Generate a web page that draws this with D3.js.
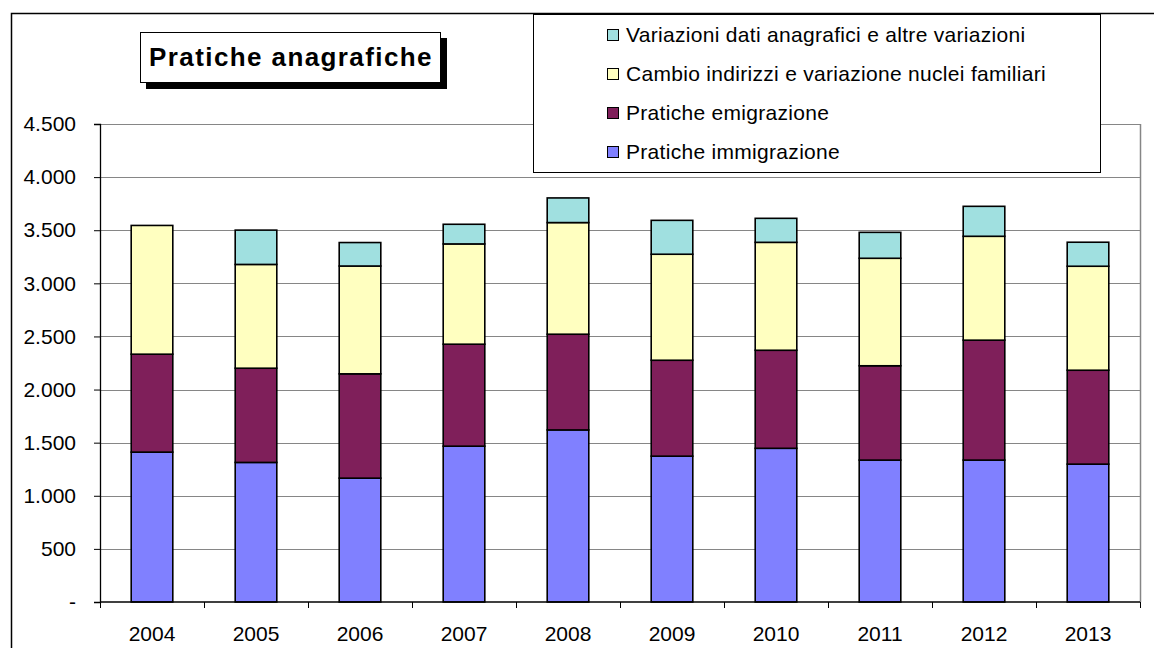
<!DOCTYPE html>
<html>
<head>
<meta charset="utf-8">
<script src="https://cdnjs.cloudflare.com/ajax/libs/d3/7.8.5/d3.min.js"></script>
<style>
  body { margin: 0; background: #fff; }
  svg text { font-family: "Liberation Sans", Arial, sans-serif; fill: #000; }
</style>
</head>
<body>
<script>
// data
var years = ["2004","2005","2006","2007","2008","2009","2010","2011","2012","2013"];
var immigrazione = [1411, 1314, 1166, 1467, 1620, 1373, 1447, 1336, 1336, 1298];
var emigrazione  = [922, 887, 982, 960, 901, 903, 923, 888, 1129, 884];
var cambio       = [1212, 977, 1015, 944, 1051, 998, 1016, 1012, 978, 979];
var variazioni   = [0, 323, 221, 185, 232, 319, 226, 244, 282, 226];
var yTicks = [0, 500, 1000, 1500, 2000, 2500, 3000, 3500, 4000, 4500];

var seriesNames = ["Pratiche immigrazione", "Pratiche emigrazione",
  "Cambio indirizzi e variazione nuclei familiari",
  "Variazioni dati anagrafici e altre variazioni"];
var colors = ["#8080ff", "#7f1f5a", "#ffffc0", "#a0e0e0"];

var W = 1154, H = 648;
var margin = {top: 124, right: 14, bottom: 46, left: 100},
    width = W - margin.left - margin.right,
    height = H - margin.top - margin.bottom;

var svg = d3.select("body")
  .append("svg")
    .attr("width", W)
    .attr("height", H);

// outer frame of the chart
svg.append("rect")
    .attr("x", 11.5).attr("y", 13.5)
    .attr("width", W + 20).attr("height", H + 20)
    .attr("fill", "none").attr("stroke", "#000").attr("stroke-width", 1.5);

var g = svg.append("g")
    .attr("transform", "translate(" + margin.left + "," + margin.top + ")");

// build table for the stack
var table = years.map(function(y, i) {
  return {year: y, s0: immigrazione[i], s1: emigrazione[i], s2: cambio[i], s3: variazioni[i]};
});
var stack = d3.stack().keys(["s0","s1","s2","s3"]);
var layers = stack(table);

var x = d3.scaleBand()
    .domain(years)
    .range([0, width])
    .paddingInner(0.6)
    .paddingOuter(0.3);

var y = d3.scaleLinear()
    .domain([0, 4500])
    .range([height, 0]);

// gridlines
g.selectAll(".grid")
    .data(yTicks.slice(1))
    .enter().append("line")
    .attr("x1", 0).attr("x2", width)
    .attr("y1", function(d) { return Math.round(y(d)) + 0.5; })
    .attr("y2", function(d) { return Math.round(y(d)) + 0.5; })
    .attr("stroke", "#868686").attr("stroke-width", 1.2);

// right border of plot area
g.append("line")
    .attr("x1", width + 0.5).attr("x2", width + 0.5)
    .attr("y1", 0).attr("y2", height)
    .attr("stroke", "#868686").attr("stroke-width", 1.5);

// bars
g.selectAll(".layer")
    .data(layers)
    .enter().append("g")
    .attr("fill", function(d, i) { return colors[i]; })
  .selectAll("rect")
    .data(function(d) { return d.filter(function(p) { return p[1] - p[0] > 0; }); })
    .enter().append("rect")
    .attr("x", function(d) { return x(d.data.year); })
    .attr("y", function(d) { return y(d[1]); })
    .attr("width", x.bandwidth())
    .attr("height", function(d) { return y(d[0]) - y(d[1]); })
    .attr("stroke", "#000")
    .attr("stroke-width", 1.6);

// y axis
var yAxis = g.append("g")
    .call(d3.axisLeft(y).tickValues(yTicks).tickSize(6).tickPadding(18)
      .tickFormat(function(d) { return d === 0 ? "-" : d3.format(",")(d).replace(/,/g, "."); }));
yAxis.select(".domain").attr("stroke", "#000").attr("stroke-width", 1.3);
yAxis.selectAll(".tick line").attr("stroke", "#000");
yAxis.selectAll("text").style("font-size", "21px").attr("fill", "#000");

// x axis with ticks between categories
var xAxisG = g.append("g").attr("transform", "translate(0," + height + ")");
xAxisG.append("line")
    .attr("x1", 0).attr("x2", width).attr("y1", 0).attr("y2", 0)
    .attr("stroke", "#000").attr("stroke-width", 1.5);
var step = x.step();
xAxisG.selectAll(".xt")
    .data(d3.range(years.length + 1))
    .enter().append("line")
    .attr("x1", function(i) { return Math.round(i * step) + 0.5; })
    .attr("x2", function(i) { return Math.round(i * step) + 0.5; })
    .attr("y1", 0).attr("y2", 6)
    .attr("stroke", "#000");
xAxisG.selectAll(".xl")
    .data(years)
    .enter().append("text")
    .attr("x", function(d) { return x(d) + x.bandwidth() / 2; })
    .attr("y", 39)
    .attr("text-anchor", "middle")
    .style("font-size", "21px")
    .text(function(d) { return d; });

// title box with shadow
var tb = svg.append("g");
tb.append("rect").attr("x", 146).attr("y", 38).attr("width", 301).attr("height", 51).attr("fill", "#000");
tb.append("rect").attr("x", 140.5).attr("y", 32.5).attr("width", 300).attr("height", 50)
    .attr("fill", "#fff").attr("stroke", "#000").attr("stroke-width", 1);
tb.append("text")
    .attr("x", 291).attr("y", 66)
    .attr("text-anchor", "middle")
    .style("font-size", "26px").style("font-weight", "bold").style("letter-spacing", "1.4px")
    .text("Pratiche anagrafiche");

// legend
var lg = svg.append("g");
lg.append("rect").attr("x", 533.5).attr("y", 14.5).attr("width", 567).attr("height", 158)
    .attr("fill", "#fff").attr("stroke", "#000").attr("stroke-width", 1);
var legendOrder = [3, 2, 1, 0];
var items = lg.selectAll(".li")
    .data(legendOrder)
    .enter().append("g")
    .attr("transform", function(d, i) { return "translate(607," + (35 + i * 39) + ")"; });
items.append("rect")
    .attr("x", 0.5).attr("y", -5.5).attr("width", 11).attr("height", 11)
    .attr("fill", function(d) { return colors[d]; })
    .attr("stroke", "#000").attr("stroke-width", 1);
items.append("text")
    .attr("x", 19).attr("y", 7)
    .style("font-size", "21px").style("letter-spacing", "0.3px")
    .text(function(d) { return seriesNames[d]; });
</script>
</body>
</html>
